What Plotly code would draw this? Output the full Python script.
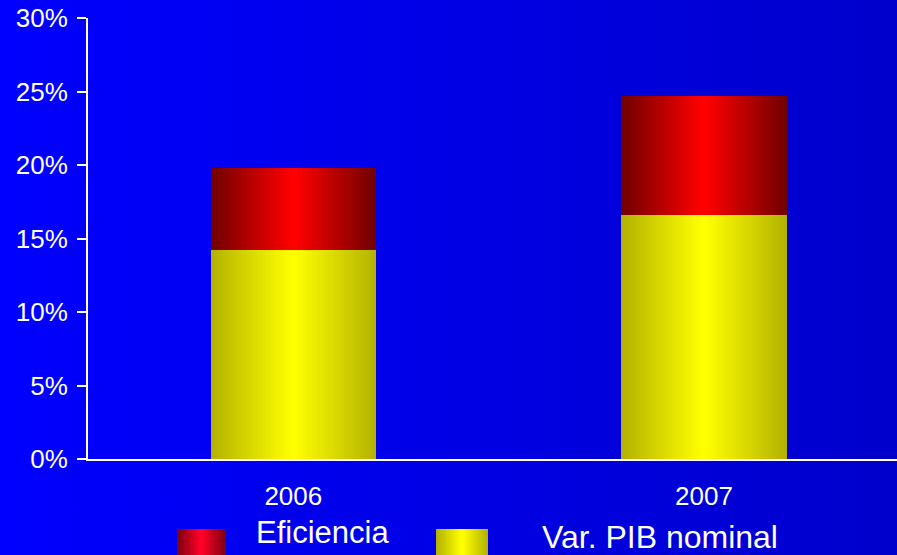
import base64
import plotly.graph_objects as go

# ---- data ----
years = ["2006", "2007"]
var_pib_nominal = [14.2, 16.6]
eficiencia = [5.6, 8.1]
series_names = ["Eficiencia", "Var. PIB nominal"]
y_ticks = [0, 5, 10, 15, 20, 25, 30]
y_tick_labels = [f"{v}%" for v in y_ticks]

# ---- style ----
W, H = 897, 555
ML, MR, MT, MB = 88, 0, 18, 96
PW, PH = W - ML - MR, H - MT - MB
FONT = "Liberation Sans, Arial, sans-serif"
BAR_W = 0.403
N_LAYERS = 26
RED_EDGE, RED_CENTER = (0x72, 0x00, 0x00), (0xFF, 0x00, 0x00)
YEL_EDGE, YEL_CENTER = (0xB4, 0xB4, 0x00), (0xFF, 0xFF, 0x00)
LEG_RED_EDGE, LEG_RED_CENTER = (0x80, 0x00, 0x10), (0xFF, 0x00, 0x28)


def lerp(c1, c2, t):
    return "rgb(%d,%d,%d)" % tuple(round(a + (b - a) * t) for a, b in zip(c1, c2))


fig = go.Figure()

# gradient-shaded stacked bars (layers of decreasing width)
for k in range(N_LAYERS):
    t = k / (N_LAYERS - 1)
    w = BAR_W * (1 - k / N_LAYERS)
    fig.add_trace(go.Bar(
        x=years, y=var_pib_nominal, base=[0, 0], width=w,
        marker=dict(color=lerp(YEL_EDGE, YEL_CENTER, t), line=dict(width=0)),
        showlegend=False, hoverinfo="skip" if k else None, name=series_names[1]))
    fig.add_trace(go.Bar(
        x=years, y=eficiencia, base=var_pib_nominal, width=w,
        marker=dict(color=lerp(RED_EDGE, RED_CENTER, t), line=dict(width=0)),
        showlegend=False, hoverinfo="skip" if k else None, name=series_names[0]))

# background gradient
svg = ('<svg xmlns="http://www.w3.org/2000/svg" width="897" height="555">'
       '<defs><linearGradient id="g" x1="0" y1="0" x2="1" y2="0">'
       '<stop offset="0" stop-color="#0000FF"/><stop offset="1" stop-color="#0000CC"/>'
       '</linearGradient></defs><rect width="897" height="555" fill="url(#g)"/></svg>')
src = "data:image/svg+xml;base64," + base64.b64encode(svg.encode()).decode()


def px(xp):
    return (xp - ML) / PW


def py(yp):
    return (H - MB - yp) / PH


images = [dict(source=src, xref="paper", yref="paper", x=px(0), y=py(0),
               sizex=W / PW, sizey=H / PH, sizing="stretch",
               xanchor="left", yanchor="top", layer="below")]

# custom legend
shapes = []
annotations = []
legend_items = [
    (series_names[0], 177, 226, LEG_RED_EDGE, LEG_RED_CENTER, 254, 532, 31),
    (series_names[1], 436, 488, YEL_EDGE, YEL_CENTER, 540, 537, 32),
]
for name, x0, x1, ce, cc, tx, ty, fs in legend_items:
    n = 14
    cx = (x0 + x1) / 2
    half = (x1 - x0) / 2
    for k in range(n):
        t = k / (n - 1)
        hw = half * (1 - k / n)
        shapes.append(dict(type="rect", xref="paper", yref="paper",
                           x0=px(cx - hw), x1=px(cx + hw), y0=py(560), y1=py(529),
                           fillcolor=lerp(ce, cc, t), line=dict(width=0), layer="above"))
    annotations.append(dict(text=name, xref="paper", yref="paper", x=px(tx), y=py(ty),
                            xanchor="left", yanchor="middle", showarrow=False,
                            font=dict(family=FONT, size=fs, color="white")))

fig.update_layout(
    width=W, height=H,
    margin=dict(l=ML, r=MR, t=MT, b=MB, pad=0),
    barmode="overlay", bargap=0,
    paper_bgcolor="#0000E6", plot_bgcolor="rgba(0,0,0,0)",
    showlegend=False,
    images=images, shapes=shapes, annotations=annotations,
    font=dict(family=FONT, color="white"),
    xaxis=dict(type="category", range=[-0.5, 1.47], showgrid=False, zeroline=False,
               showline=True, linecolor="white", linewidth=2, ticks="",
               tickfont=dict(family=FONT, size=26, color="white"),
               ticklabelstandoff=13),
    yaxis=dict(range=[0, 30], tickvals=y_ticks, ticktext=y_tick_labels,
               showgrid=False, zeroline=False, showline=True, linecolor="white",
               linewidth=2, ticks="outside", ticklen=9, tickwidth=2, tickcolor="white",
               tickfont=dict(family=FONT, size=26, color="white"),
               ticklabelstandoff=4),
)

fig.write_html("out.html", config={"displayModeBar": False},
               post_script="document.body.style.margin='0';document.body.style.overflow='hidden';")
